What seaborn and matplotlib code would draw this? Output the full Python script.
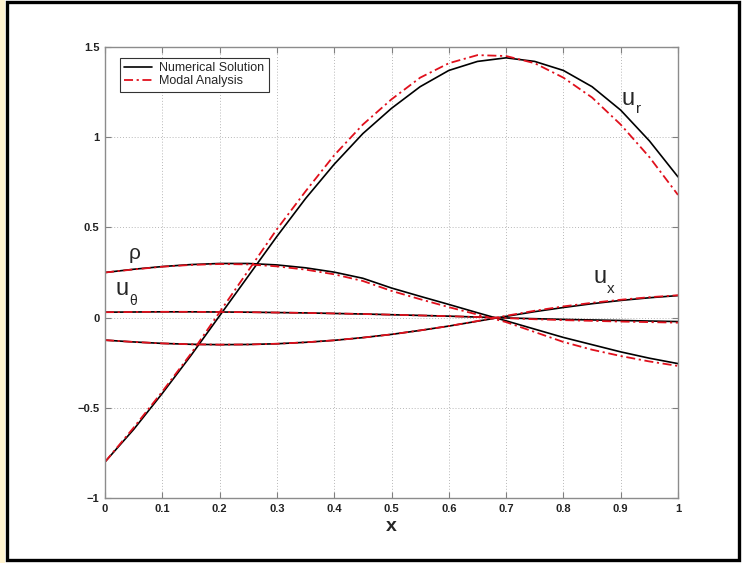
import matplotlib
matplotlib.use("Agg")
import matplotlib.pyplot as plt
import seaborn as sns
from matplotlib.patches import Rectangle
from matplotlib.lines import Line2D

# ---------------- data ----------------
x = [0.00, 0.05, 0.10, 0.15, 0.20, 0.25, 0.30, 0.35, 0.40, 0.45, 0.50,
     0.55, 0.60, 0.65, 0.70, 0.75, 0.80, 0.85, 0.90, 0.95, 1.00]

ur_num = [-0.80, -0.62, -0.42, -0.21, 0.01, 0.23, 0.45, 0.66, 0.85, 1.02, 1.16,
          1.28, 1.37, 1.42, 1.44, 1.42, 1.37, 1.28, 1.15, 0.98, 0.78]
ur_mod = [-0.80, -0.61, -0.41, -0.20, 0.03, 0.26, 0.49, 0.70, 0.90, 1.07, 1.21,
          1.33, 1.41, 1.455, 1.45, 1.41, 1.33, 1.22, 1.07, 0.89, 0.68]

rho_num = [0.25, 0.268, 0.283, 0.294, 0.300, 0.300, 0.292, 0.276, 0.252, 0.218, 0.164,
           0.118, 0.073, 0.027, -0.018, -0.064, -0.110, -0.150, -0.190, -0.225, -0.255]
rho_mod = [0.25, 0.267, 0.282, 0.292, 0.297, 0.295, 0.284, 0.266, 0.240, 0.203, 0.148,
           0.102, 0.058, 0.017, -0.025, -0.080, -0.135, -0.178, -0.213, -0.243, -0.268]

uth_num = [0.030, 0.031, 0.032, 0.032, 0.031, 0.030, 0.028, 0.026, 0.023, 0.020, 0.016,
           0.012, 0.008, 0.003, -0.002, -0.006, -0.010, -0.013, -0.016, -0.019, -0.022]
uth_mod = [0.030, 0.031, 0.032, 0.032, 0.031, 0.030, 0.028, 0.026, 0.023, 0.020, 0.016,
           0.012, 0.008, 0.003, -0.003, -0.009, -0.014, -0.018, -0.022, -0.025, -0.028]

ux_num = [-0.125, -0.135, -0.143, -0.148, -0.150, -0.149, -0.145, -0.137, -0.126, -0.111, -0.093,
          -0.071, -0.047, -0.020, 0.007, 0.033, 0.056, 0.077, 0.095, 0.110, 0.122]
ux_mod = [-0.125, -0.135, -0.143, -0.148, -0.150, -0.149, -0.145, -0.137, -0.126, -0.111, -0.093,
          -0.071, -0.047, -0.019, 0.010, 0.038, 0.062, 0.082, 0.099, 0.113, 0.124]

xticks = [0, 0.1, 0.2, 0.3, 0.4, 0.5, 0.6, 0.7, 0.8, 0.9, 1]
xtick_labels = ["0", "0.1", "0.2", "0.3", "0.4", "0.5", "0.6", "0.7", "0.8", "0.9", "1"]
yticks = [-1, -0.5, 0, 0.5, 1, 1.5]
ytick_labels = ["\u22121", "\u22120.5", "0", "0.5", "1", "1.5"]
legend_labels = ["Numerical Solution", "Modal Analysis"]

# ---------------- style ----------------
sns.set_theme(style="white")
plt.rcParams["font.family"] = ["Liberation Sans", "DejaVu Sans"]

RED = "#e0101c"
DASHDOT = (0, (5, 2, 1.2, 2))

fig = plt.figure(figsize=(7.42, 5.63), dpi=100)
fig.patch.set_facecolor("white")
ax = fig.add_axes([105 / 742, 65 / 563, 573 / 742, 451 / 563])

for num in (ur_num, rho_num, uth_num, ux_num):
    sns.lineplot(x=x, y=num, color="black", linewidth=1.2, ax=ax, legend=False)
for mod in (ur_mod, rho_mod, uth_mod, ux_mod):
    sns.lineplot(x=x, y=mod, color=RED, linewidth=1.3, linestyle=DASHDOT, ax=ax, legend=False)

ax.set_xlim(0, 1)
ax.set_ylim(-1, 1.5)
ax.set_xticks(xticks)
ax.set_xticklabels(xtick_labels, fontsize=8, fontweight="bold", color="#222222")
ax.set_yticks(yticks)
ax.set_yticklabels(ytick_labels, fontsize=8, fontweight="bold", color="#222222")
ax.tick_params(direction="in", length=4, width=0.8, color="#808080",
               top=True, right=True, bottom=True, left=True, pad=4)
ax.set_axisbelow(True)
ax.grid(True, linestyle=(0, (1, 2)), color="#b8b8b8", linewidth=0.7)
for sp in ax.spines.values():
    sp.set_color("#8c8c8c")
    sp.set_linewidth(1.0)
ax.set_xlabel("x", fontsize=14, fontweight="bold", labelpad=3)

# legend
handles = [Line2D([], [], color="black", linewidth=1.2),
           Line2D([], [], color=RED, linewidth=1.3, linestyle=DASHDOT)]
leg = ax.legend(handles, legend_labels, loc="upper left", bbox_to_anchor=(0.026, 0.976),
                borderaxespad=0, frameon=True, fancybox=False, edgecolor="black",
                fontsize=9, handlelength=2.2, borderpad=0.35, labelspacing=0.1,
                handletextpad=0.6)
leg.get_frame().set_linewidth(0.8)

# curve labels
ax.text(0.913, 1.21, "u", fontsize=17, ha="center", va="center")
ax.text(0.932, 1.155, "r", fontsize=11, ha="center", va="center")
ax.text(0.051, 0.355, "\u03c1", fontsize=15, ha="center", va="center")
ax.text(0.030, 0.160, "u", fontsize=17, ha="center", va="center")
ax.text(0.049, 0.092, "\u03b8", fontsize=10, ha="center", va="center")
ax.text(0.864, 0.225, "u", fontsize=17, ha="center", va="center")
ax.text(0.883, 0.160, "x", fontsize=11, ha="center", va="center")

# figure frame
fig.add_artist(Rectangle((0, 0), 5 / 742, 1, transform=fig.transFigure,
                         facecolor="#fff4d0", edgecolor="none"))
fig.add_artist(Rectangle((6.5 / 742, 3 / 563), (739 - 6.5) / 742, (561 - 3) / 563,
                         transform=fig.transFigure, fill=False, edgecolor="black",
                         linewidth=2.4))

fig.savefig("out.png", dpi=100)
